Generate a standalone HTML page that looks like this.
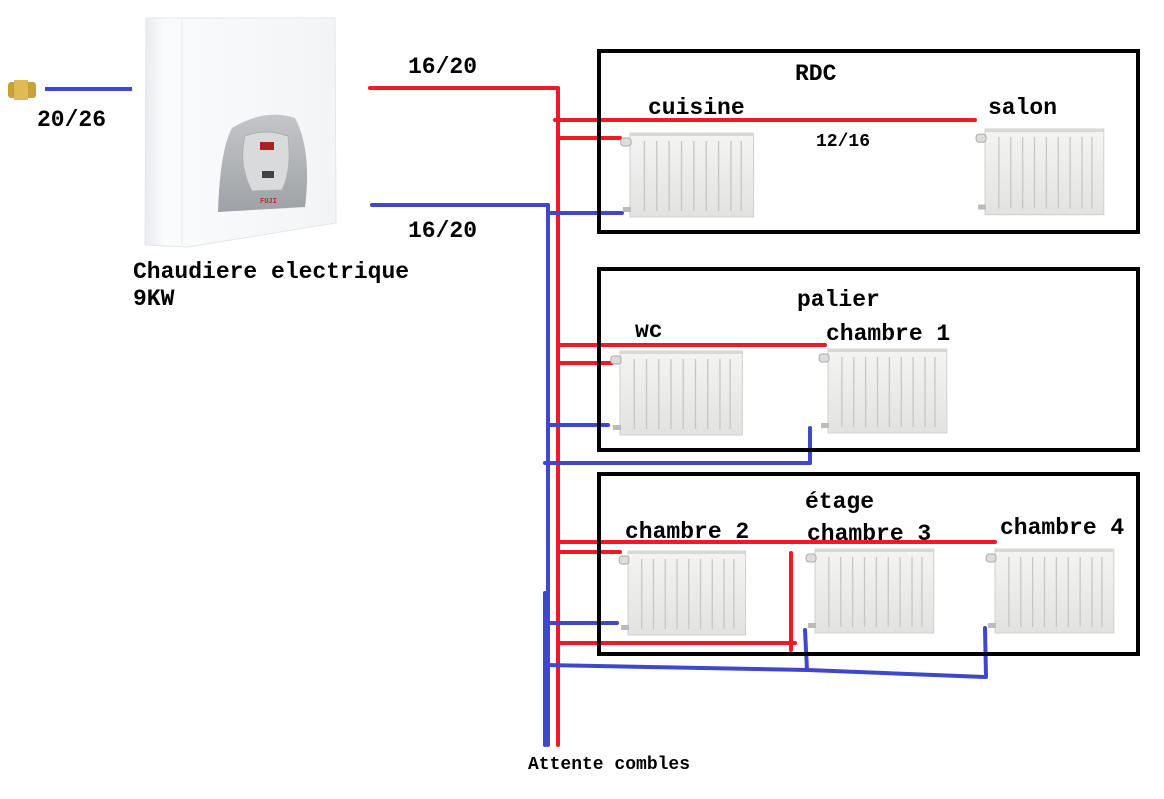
<!DOCTYPE html>
<html><head><meta charset="utf-8"><style>
html,body{margin:0;padding:0;background:#fff;}
svg{display:block}
text{font-family:"Liberation Mono",monospace;font-weight:bold;fill:#000}
</style></head><body>
<svg width="1164" height="799" viewBox="0 0 1164 799" xmlns="http://www.w3.org/2000/svg">
<defs>
<linearGradient id="rg" x1="0" y1="0" x2="0" y2="1"><stop offset="0" stop-color="#f4f4f2"/><stop offset="1" stop-color="#e2e3e0"/></linearGradient>
<linearGradient id="bw" x1="0" y1="0" x2="1" y2="0"><stop offset="0" stop-color="#e8ebef"/><stop offset="0.1" stop-color="#fafbfc"/><stop offset="1" stop-color="#f2f4f6"/></linearGradient>
<linearGradient id="pg" x1="0" y1="0" x2="0" y2="1"><stop offset="0" stop-color="#c4c6c9"/><stop offset="1" stop-color="#9ea1a5"/></linearGradient>
<g id="rad">
<rect x="0" y="0" width="120" height="84" fill="url(#rg)" stroke="#d0d0cc"/>
<rect x="0" y="0" width="120" height="3" fill="#d8d8d4"/>
<g stroke="#c6c7c3" stroke-width="1.3">
<line x1="14" y1="8" x2="14" y2="78"/><line x1="26" y1="8" x2="26" y2="78"/><line x1="38" y1="8" x2="38" y2="78"/><line x1="50" y1="8" x2="50" y2="78"/><line x1="62" y1="8" x2="62" y2="78"/><line x1="74" y1="8" x2="74" y2="78"/><line x1="86" y1="8" x2="86" y2="78"/><line x1="98" y1="8" x2="98" y2="78"/><line x1="108" y1="8" x2="108" y2="78"/>
</g>
<rect x="-9" y="5" width="10" height="8" rx="3" fill="#ddd" stroke="#aaa"/>
<rect x="-7" y="74" width="8" height="5" fill="#bbb"/>
</g>
</defs>

<!-- inlet -->
<rect x="8" y="82" width="28" height="16" rx="3" fill="#c9a13a"/>
<rect x="14" y="80" width="14" height="20" fill="#e0bb55"/>
<line x1="45" y1="89" x2="132" y2="89" stroke="#3f48cc" stroke-width="4"/>

<!-- boiler -->
<polygon points="146,18 335,18 336,223 188,247 145,245" fill="url(#bw)" stroke="#e3e6ea"/>
<line x1="182" y1="18" x2="182" y2="245" stroke="#e8eaed"/>
<path d="M232,128 Q265,108 295,118 Q312,150 305,207 L218,212 Q220,150 232,128Z" fill="url(#pg)"/>
<path d="M245,136 Q265,128 288,136 Q292,170 282,190 L252,191 Q238,165 245,136Z" fill="#d9dadc" stroke="#aeb0b3"/>
<rect x="260" y="142" width="14" height="8" fill="#a22"/>
<rect x="262" y="171" width="12" height="7" fill="#444"/>
<text x="260" y="203" style="font-size:7px;fill:#c22">FUJI</text>

<!-- pipes -->
<g stroke-width="4" fill="none" stroke-linecap="round">
<g stroke="#ed1c24">
<line x1="370" y1="88" x2="558" y2="88"/>
<line x1="558" y1="88" x2="558" y2="745"/>
<line x1="555" y1="120" x2="975" y2="120"/>
<line x1="558" y1="138" x2="620" y2="138"/>
<line x1="558" y1="345" x2="825" y2="345"/>
<line x1="558" y1="363" x2="612" y2="363"/>
<line x1="558" y1="542" x2="995" y2="542"/>
<line x1="558" y1="552" x2="620" y2="552"/>
<line x1="558" y1="643" x2="795" y2="643"/>
<line x1="791" y1="553" x2="791" y2="650"/>
</g>
<g stroke="#3f48cc">
<line x1="372" y1="205" x2="548" y2="205"/>
<line x1="548" y1="205" x2="548" y2="745"/>
<line x1="545" y1="593" x2="545" y2="745"/>
<line x1="548" y1="213" x2="622" y2="213"/>
<line x1="548" y1="425" x2="608" y2="425"/>
<line x1="545" y1="463" x2="810" y2="463"/>
<line x1="810" y1="428" x2="810" y2="463"/>
<line x1="548" y1="623" x2="617" y2="623"/>
<polyline points="545,665 808,670 985,677"/>
<line x1="805" y1="630" x2="807" y2="670"/>
<line x1="985" y1="628" x2="986" y2="677"/>
</g>
</g>

<!-- boxes -->
<g fill="none" stroke="#000" stroke-width="4">
<rect x="599" y="51" width="539" height="181"/>
<rect x="599" y="269" width="539" height="181"/>
<rect x="599" y="474" width="539" height="180"/>
</g>

<!-- radiators -->
<use href="#rad" transform="translate(630,133) scale(1.03,1)"/>
<use href="#rad" transform="translate(985,129) scale(0.99,1.02)"/>
<use href="#rad" transform="translate(620,351) scale(1.02,1)"/>
<use href="#rad" transform="translate(828,349) scale(0.99,1)"/>
<use href="#rad" transform="translate(628,551) scale(0.98,1)"/>
<use href="#rad" transform="translate(815,549) scale(0.99,1)"/>
<use href="#rad" transform="translate(995,549) scale(0.99,1)"/>

<!-- labels -->
<g style="font-size:23px">
<text x="408" y="73">16/20</text>
<text x="408" y="237">16/20</text>
<text x="37" y="126">20/26</text>
<text x="133" y="278">Chaudiere electrique</text>
<text x="133" y="305">9KW</text>
<text x="795" y="80">RDC</text>
<text x="648" y="114">cuisine</text>
<text x="988" y="114">salon</text>
<text x="797" y="306">palier</text>
<text x="635" y="337">wc</text>
<text x="826" y="340">chambre 1</text>
<text x="805" y="508">étage</text>
<text x="625" y="538">chambre 2</text>
<text x="807" y="540">chambre 3</text>
<text x="1000" y="534">chambre 4</text>
</g>
<text x="816" y="146" style="font-size:18px">12/16</text>
<text x="528" y="769" style="font-size:18px">Attente combles</text>
</svg>
</body></html>
